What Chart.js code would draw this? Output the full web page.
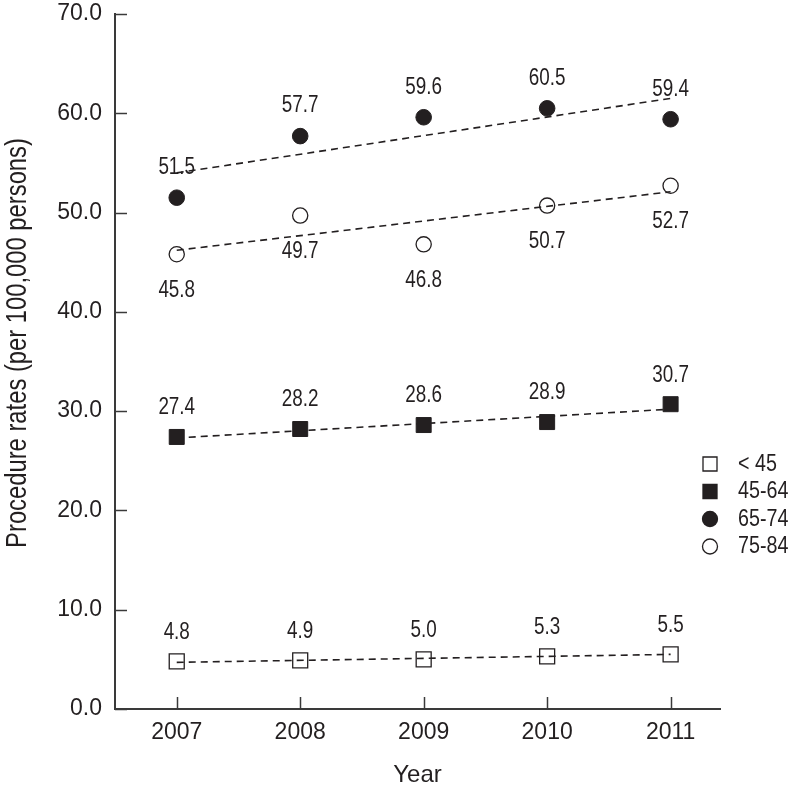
<!DOCTYPE html>
<html><head><meta charset="utf-8">
<script src="https://cdn.jsdelivr.net/npm/chart.js@4.4.1/dist/chart.umd.min.js"></script>
<style>html,body{margin:0;padding:0;background:#fff}</style>
</head><body>
<canvas id="c" width="793" height="787"></canvas>
<script>
// ---- data ----
const years = [2007, 2008, 2009, 2010, 2011];
const seriesNames = ['< 45', '45-64', '65-74', '75-84'];
const under45 = [4.8, 4.9, 5.0, 5.3, 5.5];
const age45to64 = [27.4, 28.2, 28.6, 28.9, 30.7];
const age65to74 = [51.5, 57.7, 59.6, 60.5, 59.4];
const age75to84 = [45.8, 49.7, 46.8, 50.7, 52.7];
// trend line values at 2007 and 2011
const trendUnder45 = [4.7, 5.5];
const trend45to64 = [27.3, 30.2];
const trend65to74 = [54.0, 61.5];
const trend75to84 = [46.2, 52.1];
const yTickValues = [0, 10, 20, 30, 40, 50, 60, 70];
const xTitle = 'Year';
const yTitle = 'Procedure rates (per 100,000 persons)';

// ---- styles ----
const FAM = "'Liberation Sans', Arial, sans-serif";
const SQUEEZE = 0.82;
const INK = '#231f20';
const AXIS = '#3a3a3a';

const pts = arr => years.map((yr, i) => ({x: yr, y: arr[i]}));
const ends = arr => [{x: years[0], y: arr[0]}, {x: years[years.length - 1], y: arr[1]}];

function trendDs(arr) {
  return {type: 'line', data: ends(arr), borderColor: INK, borderWidth: 1.6,
    borderDash: [7, 5], pointRadius: 0, fill: false, tension: 0, isTrend: true, order: 2};
}
function markerDs(name, arr, style, radius, filled, labelOffset) {
  return {type: 'line', label: name, data: pts(arr), showLine: false,
    pointStyle: style, pointRadius: radius, pointHoverRadius: radius,
    pointBackgroundColor: filled ? INK : 'rgba(0,0,0,0)', pointBorderColor: INK,
    pointBorderWidth: filled ? 1 : 1.3, valueLabels: true, labelOffset, order: 1,
    legendStyle: style, legendFilled: filled};
}

const datasets = [
  trendDs(trendUnder45), trendDs(trend45to64), trendDs(trend65to74), trendDs(trend75to84),
  markerDs(seriesNames[0], under45, 'rect', 10.6, false, -29),
  markerDs(seriesNames[1], age45to64, 'rect', 10.6, true, -29),
  markerDs(seriesNames[2], age65to74, 'circle', 7.8, true, -30),
  markerDs(seriesNames[3], age75to84, 'circle', 7.6, false, 36),
];

function squeezedText(ctx, text, x, y, align) {
  ctx.save();
  ctx.translate(x, y);
  ctx.scale(SQUEEZE, 1);
  ctx.textAlign = align;
  ctx.fillText(text, 0, 0);
  ctx.restore();
}

const decor = {
  id: 'decor',
  afterDatasetsDraw(chart) {
    const {ctx, chartArea, scales} = chart;
    ctx.save();
    // inward tick marks
    ctx.strokeStyle = AXIS; ctx.lineWidth = 1.5;
    scales.y.ticks.forEach(t => {
      const py = Math.round(scales.y.getPixelForValue(t.value)) + 0.5;
      ctx.beginPath(); ctx.moveTo(chartArea.left, py); ctx.lineTo(chartArea.left + 12, py); ctx.stroke();
    });
    scales.x.ticks.forEach(t => {
      const px = Math.round(scales.x.getPixelForValue(t.value)) + 0.5;
      ctx.beginPath(); ctx.moveTo(px, chartArea.bottom); ctx.lineTo(px, chartArea.bottom - 12); ctx.stroke();
    });
    // value labels
    ctx.font = '23px ' + FAM; ctx.fillStyle = INK; ctx.textBaseline = 'middle';
    chart.data.datasets.forEach((ds, i) => {
      if (!ds.valueLabels) return;
      const meta = chart.getDatasetMeta(i);
      meta.data.forEach((el, j) => {
        squeezedText(ctx, ds.data[j].y.toFixed(1), el.x, el.y + ds.labelOffset, 'center');
      });
    });
    // legend
    const lx = 710, ly0 = 464, lstep = 27.5;
    let row = 0;
    chart.data.datasets.forEach(ds => {
      if (!ds.valueLabels) return;
      const y = ly0 + row * lstep;
      ctx.beginPath();
      if (ds.legendStyle === 'rect') ctx.rect(lx - 7, y - 7, 14, 14);
      else ctx.arc(lx, y, 7.5, 0, Math.PI * 2);
      ctx.lineWidth = 1.3; ctx.strokeStyle = INK; ctx.fillStyle = INK;
      if (ds.legendFilled) ctx.fill();
      ctx.stroke();
      ctx.font = '24px ' + FAM; ctx.fillStyle = INK; ctx.textBaseline = 'middle';
      squeezedText(ctx, ds.label, 738, y, 'left');
      row++;
    });
    // y-axis title (rotated)
    ctx.translate(18, 343); ctx.rotate(-Math.PI / 2);
    ctx.font = '29px ' + FAM; ctx.textBaseline = 'middle'; ctx.fillStyle = INK;
    squeezedText(ctx, yTitle, 0, 0, 'center');
    ctx.restore();
  }
};

new Chart(document.getElementById('c'), {
  data: {datasets},
  options: {
    responsive: false, animation: false, devicePixelRatio: 1,
    layout: {padding: {top: 14, right: 73, bottom: 0, left: 0}},
    plugins: {legend: {display: false}, tooltip: {enabled: false}},
    scales: {
      x: {
        type: 'linear', position: 'bottom', min: 2006.5, max: 2011.4,
        grid: {display: false},
        border: {display: true, color: AXIS, width: 2},
        afterBuildTicks: s => { s.ticks = years.map(v => ({value: v})); },
        afterFit: s => { s.height = 78; s.paddingLeft = 0; s.paddingRight = 0; },
        ticks: {font: {family: FAM, size: 23}, color: INK, padding: 2, callback: v => String(v)},
        title: {display: true, text: xTitle, font: {family: FAM, size: 24}, color: INK, padding: {top: 0, bottom: -3}}
      },
      y: {
        type: 'linear', min: 0, max: 70,
        grid: {display: false},
        border: {display: true, color: AXIS, width: 2},
        afterBuildTicks: s => { s.ticks = yTickValues.map(v => ({value: v})); },
        afterFit: s => { s.width = 115; s.paddingTop = 0; s.paddingBottom = 0; },
        ticks: {font: {family: FAM, size: 23}, color: INK, padding: 5, callback: v => Number(v).toFixed(1)}
      }
    }
  },
  plugins: [decor]
});
</script>
</body></html>
